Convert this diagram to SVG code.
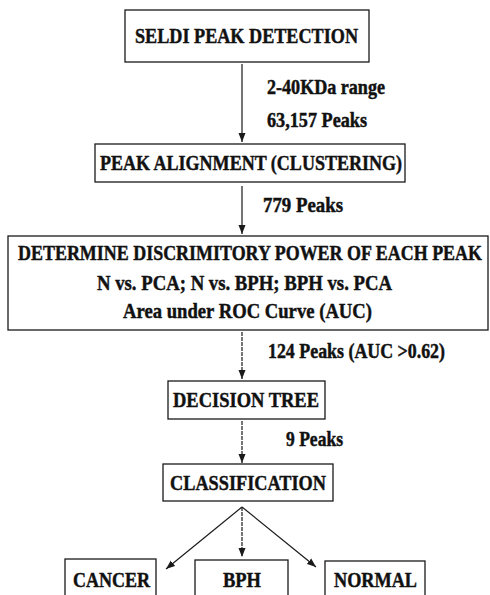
<svg xmlns="http://www.w3.org/2000/svg" width="490" height="595" viewBox="0 0 490 595">
<style>
.box{fill:#fff;stroke:#1a1a1a;stroke-width:1.3}
.t{font-family:'Liberation Serif','DejaVu Serif',serif;font-weight:700;fill:#111;stroke:#111;stroke-width:0.45}
.n{font-size:22px}
.l{font-size:20px}
.c{stroke:#1a1a1a;stroke-width:1.2;fill:none}
.d{stroke-dasharray:4 1}
</style>
<defs>
<marker id="ah" markerUnits="userSpaceOnUse" markerWidth="10" markerHeight="8" refX="9" refY="4" orient="auto">
<path d="M0,0.5 L9,4 L0,7.5 z" fill="#1a1a1a"/>
</marker>
</defs>
<rect width="490" height="595" fill="#fff"/>
<g id="connectors">
<line class="c" x1="242" y1="64" x2="242" y2="142" marker-end="url(#ah)"/>
<line class="c" x1="242" y1="186" x2="242" y2="234" marker-end="url(#ah)"/>
<line class="c d" x1="242" y1="332" x2="242" y2="379" marker-end="url(#ah)"/>
<line class="c d" x1="242" y1="421" x2="242" y2="463" marker-end="url(#ah)"/>
<line class="c" x1="242" y1="507" x2="166" y2="569" marker-end="url(#ah)"/>
<line class="c d" x1="242" y1="507" x2="242" y2="557" marker-end="url(#ah)"/>
<line class="c" x1="242" y1="507" x2="316" y2="567" marker-end="url(#ah)"/>
</g>
<g id="labels">
<text class="t l" x="267" y="94" textLength="118" lengthAdjust="spacingAndGlyphs">2-40KDa range</text>
<text class="t l" x="267" y="127" textLength="100" lengthAdjust="spacingAndGlyphs">63,157 Peaks</text>
<text class="t l" x="263" y="212" textLength="80" lengthAdjust="spacingAndGlyphs">779 Peaks</text>
<text class="t l" x="268" y="358" textLength="177" lengthAdjust="spacingAndGlyphs">124 Peaks (AUC &gt;0.62)</text>
<text class="t l" x="286" y="446" textLength="57" lengthAdjust="spacingAndGlyphs">9 Peaks</text>
</g>
<g id="seldi">
<rect class="box" x="125" y="10" width="244" height="52"/>
<text class="t n" x="135" y="43" textLength="223" lengthAdjust="spacingAndGlyphs">SELDI PEAK DETECTION</text>
</g>
<g id="alignment">
<rect class="box" x="95" y="144" width="310" height="38"/>
<text class="t n" x="100" y="170" textLength="302" lengthAdjust="spacingAndGlyphs">PEAK ALIGNMENT (CLUSTERING)</text>
</g>
<g id="determine">
<rect class="box" x="8" y="236" width="480" height="94"/>
<text class="t n" transform="matrix(0.8 0 0 1 18 260)" x="0" y="0" textLength="580" lengthAdjust="spacingAndGlyphs">DETERMINE DISCRIMITORY POWER OF EACH PEAK</text>
<text class="t n" x="97" y="290" textLength="295" lengthAdjust="spacingAndGlyphs">N vs. PCA; N vs. BPH; BPH vs. PCA</text>
<text class="t n" x="123" y="318" textLength="249" lengthAdjust="spacingAndGlyphs">Area under ROC Curve (AUC)</text>
</g>
<g id="decision">
<rect class="box" x="168" y="381" width="157" height="38"/>
<text class="t n" x="173" y="407" textLength="146" lengthAdjust="spacingAndGlyphs">DECISION TREE</text>
</g>
<g id="classification">
<rect class="box" x="163" y="464" width="170" height="37"/>
<text class="t n" x="170" y="490" textLength="156" lengthAdjust="spacingAndGlyphs">CLASSIFICATION</text>
</g>
<g id="cancer">
<rect class="box" x="65" y="559" width="91" height="50"/>
<text class="t n" x="73" y="587" textLength="77" lengthAdjust="spacingAndGlyphs">CANCER</text>
</g>
<g id="bph">
<rect class="box" x="195" y="560" width="93" height="50"/>
<text class="t n" x="223" y="587" textLength="38" lengthAdjust="spacingAndGlyphs">BPH</text>
</g>
<g id="normal">
<rect class="box" x="325" y="561" width="100" height="50"/>
<text class="t n" x="334" y="587" textLength="83" lengthAdjust="spacingAndGlyphs">NORMAL</text>
</g>
</svg>
